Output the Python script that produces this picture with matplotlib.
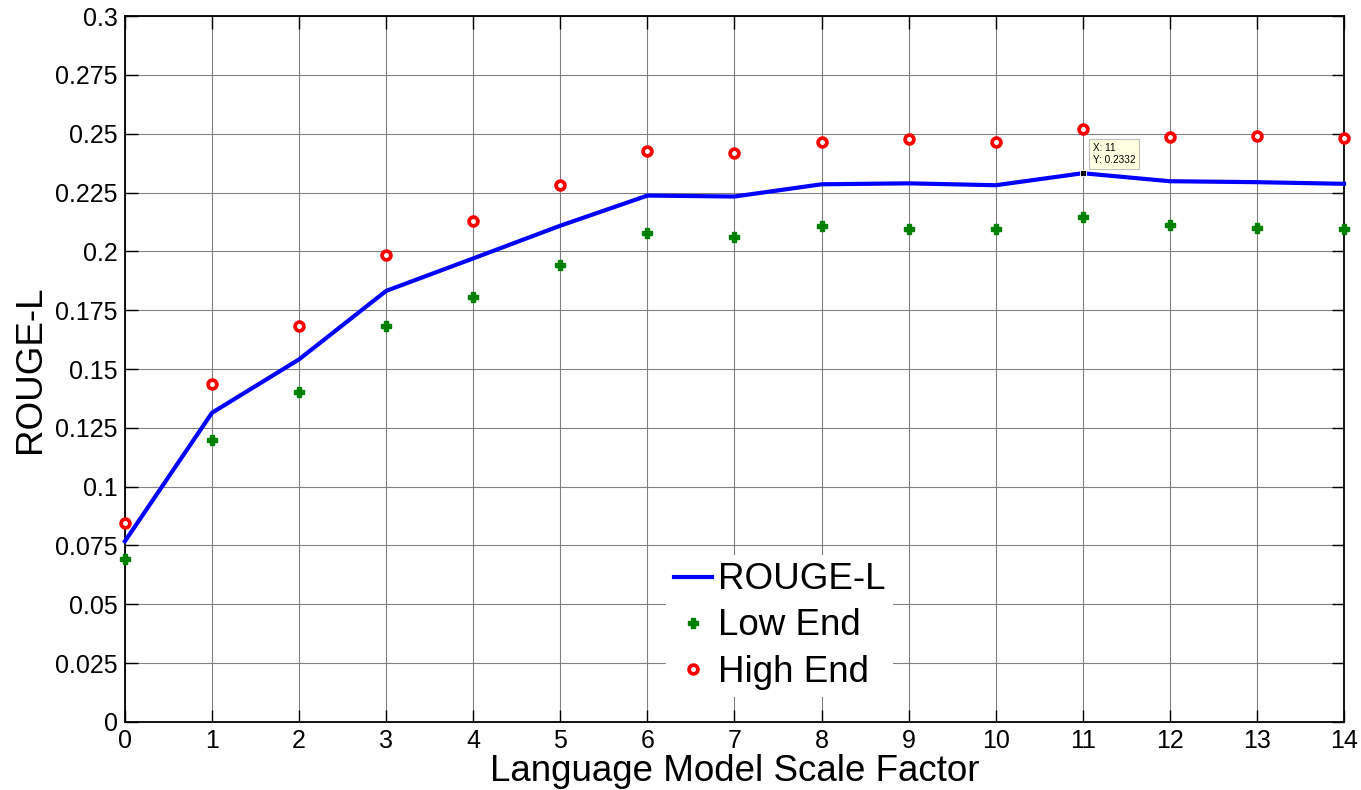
import numpy as np
import matplotlib
matplotlib.use("Agg")
import matplotlib.pyplot as plt

plt.rcParams["font.family"] = ["Liberation Sans", "DejaVu Sans"]

scale_factor = list(range(15))
rouge_l = [0.0768, 0.1314, 0.1541, 0.1832, 0.1970, 0.2109, 0.2237, 0.2233,
           0.2285, 0.2289, 0.2281, 0.2332, 0.2298, 0.2294, 0.2287]
low_end = [0.0692, 0.1198, 0.1401, 0.1683, 0.1808, 0.1943, 0.2077, 0.2062,
           0.2108, 0.2097, 0.2097, 0.2145, 0.2112, 0.2101, 0.2093]
high_end = [0.0845, 0.1435, 0.1683, 0.1983, 0.2131, 0.2280, 0.2428, 0.2420,
            0.2463, 0.2479, 0.2463, 0.2518, 0.2484, 0.2489, 0.2483]
y_ticks = [0, 0.025, 0.05, 0.075, 0.1, 0.125, 0.15, 0.175, 0.2, 0.225, 0.25, 0.275, 0.3]
y_ticklabels = ["0", "0.025", "0.05", "0.075", "0.1", "0.125", "0.15", "0.175",
                "0.2", "0.225", "0.25", "0.275", "0.3"]
tip_x, tip_y = 11, 0.2332

fig = plt.figure(figsize=(13.61, 7.90), dpi=100)
ax = fig.add_axes([0.0918, 0.0861, 0.8957, 0.8936])

ax.plot(scale_factor, rouge_l, color="#0000ff", lw=3.0, label="ROUGE-L", zorder=3, clip_on=False)
ax.plot(scale_factor, low_end, ls="none", marker="P", ms=7, color="#008000",
        mec="#008000", label="Low End", zorder=4, clip_on=False)
ax.plot(scale_factor, high_end, ls="none", marker="o", ms=6.3, mfc="white", mec="#ff0000",
        mew=2.7, label="High End", zorder=4, clip_on=False)

# data cursor
ax.plot([tip_x], [tip_y], ls="none", marker="s", ms=5, color="black", mec="white", mew=0.6,
        zorder=6, clip_on=False)
ax.annotate(f"X: {tip_x}\nY: {tip_y}", xy=(tip_x, tip_y), xytext=(7.2, 5.8),
            textcoords="offset points", ha="left", va="bottom", fontsize=7.2,
            linespacing=1.3, zorder=7,
            bbox=dict(boxstyle="square,pad=0.4", fc="#ffffe1", ec="0.75", lw=0.8))

ax.set_xlim(0, 14)
ax.set_ylim(0, 0.3)
ax.set_xticks(scale_factor)
ax.set_yticks(y_ticks)
ax.set_yticklabels(y_ticklabels)
ax.tick_params(direction="in", length=9, width=1, labelsize=18, pad=5,
               top=True, right=True, colors="black")
ax.grid(True, color="0.5", lw=0.8)
ax.set_axisbelow(True)
for s in ax.spines.values():
    s.set_linewidth(1.3)

ax.set_xlabel("Language Model Scale Factor", fontsize=26.5, labelpad=1)
ax.set_ylabel("ROUGE-L", fontsize=26.5, labelpad=5)

leg = ax.legend(loc="center", bbox_to_anchor=(0.537, 0.136), fontsize=26.5,
                frameon=True, fancybox=False, framealpha=1, edgecolor="none",
                facecolor="white", handlelength=1.05, handletextpad=0.15,
                labelspacing=0.3, borderpad=0.2, numpoints=1)
leg.set_zorder(8)

fig.savefig("out.png", dpi=100)
